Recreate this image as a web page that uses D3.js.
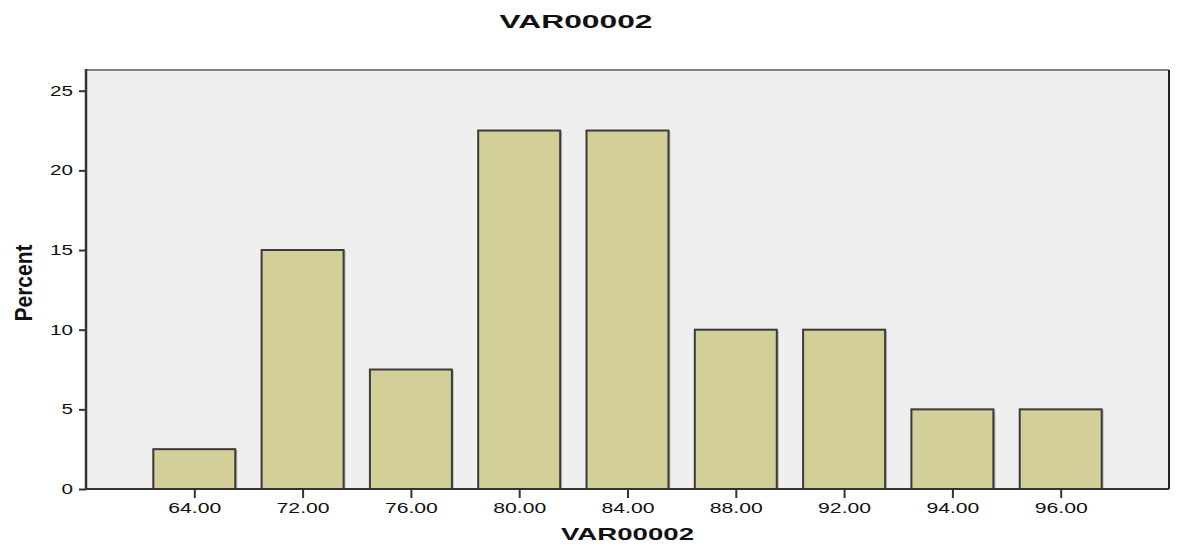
<!DOCTYPE html>
<html>
<head>
<meta charset="utf-8">
<script src="https://cdn.jsdelivr.net/npm/d3@7"></script>
<style>
  body { margin: 0; background: #fff; }
  text { font-family: "Liberation Sans", Arial, sans-serif; fill: #111; }
</style>
</head>
<body>
<div id="chart"></div>
<script>
var svgWidth = 1179;
var svgHeight = 544;

// data
var categories = ["64.00", "72.00", "76.00", "80.00", "84.00", "88.00", "92.00", "94.00", "96.00"];
var percents = [2.5, 15, 7.5, 22.5, 22.5, 10, 10, 5, 5];
var yTicks = [0, 5, 10, 15, 20, 25];

// plot box (note: "top" is a reserved window global, so use other names)
var plotLeft = 86, plotRight = 1169, plotTop = 70, plotBottom = 489;

var svg = d3.select("#chart")
  .append("svg")
  .attr("width", svgWidth)
  .attr("height", svgHeight);

var xScale = d3.scalePoint()
  .domain(categories)
  .range([plotLeft, plotRight])
  .padding(1);

var yScale = d3.scaleLinear()
  .domain([0, 26.3])
  .range([plotBottom, plotTop]);

var barWidth = xScale.step() * 0.757;

// plot background
svg.append("rect")
  .attr("x", plotLeft)
  .attr("y", plotTop)
  .attr("width", plotRight - plotLeft)
  .attr("height", plotBottom - plotTop)
  .attr("fill", "#efefef");

// bars
var bars = svg.append("g");
categories.forEach(function(c, i) {
  var x = xScale(c) - barWidth / 2;
  var y = yScale(percents[i]);
  var h = yScale(0) - y;
  // soft shadow on the right side
  bars.append("rect")
    .attr("x", x + 2)
    .attr("y", y + 1)
    .attr("width", barWidth)
    .attr("height", h - 1)
    .attr("fill", "#9a9a8a")
    .attr("opacity", 0.6);
  bars.append("rect")
    .attr("x", x)
    .attr("y", y)
    .attr("width", barWidth)
    .attr("height", h)
    .attr("fill", "#d3cf98")
    .attr("stroke", "#3a3a3a")
    .attr("stroke-width", 2);
});

// frame
svg.append("line").attr("x1", plotLeft).attr("x2", plotRight).attr("y1", plotTop).attr("y2", plotTop)
  .attr("stroke", "#808080").attr("stroke-width", 2);
svg.append("line").attr("x1", plotRight).attr("x2", plotRight).attr("y1", plotTop).attr("y2", plotBottom)
  .attr("stroke", "#222").attr("stroke-width", 2);

// y axis
var yAxis = d3.axisLeft(yScale).tickValues(yTicks).tickSize(7).tickPadding(6)
  .tickFormat(d3.format("d"));
var gy = svg.append("g").attr("transform", "translate(" + plotLeft + ",0)").call(yAxis);
gy.select(".domain").remove();
gy.selectAll(".tick line").attr("stroke", "#333").attr("stroke-width", 2);
gy.selectAll(".tick text")
  .attr("font-size", 14)
  .attr("fill", "#111")
  .attr("textLength", function(d) { return String(d).length * 11.5; })
  .attr("lengthAdjust", "spacingAndGlyphs");
svg.append("line").attr("x1", plotLeft).attr("x2", plotLeft).attr("y1", plotTop - 1).attr("y2", plotBottom + 1)
  .attr("stroke", "#333").attr("stroke-width", 2.5);

// x axis
var xAxis = d3.axisBottom(xScale).tickSize(9).tickPadding(5);
var gx = svg.append("g").attr("transform", "translate(0," + plotBottom + ")").call(xAxis);
gx.select(".domain").remove();
gx.selectAll(".tick line").attr("stroke", "#333").attr("stroke-width", 2);
gx.selectAll(".tick text")
  .attr("font-size", 14)
  .attr("fill", "#111")
  .attr("textLength", 53)
  .attr("lengthAdjust", "spacingAndGlyphs");
svg.append("line").attr("x1", plotLeft - 1).attr("x2", plotRight).attr("y1", plotBottom).attr("y2", plotBottom)
  .attr("stroke", "#333").attr("stroke-width", 2);

// titles
svg.append("text")
  .attr("x", 576)
  .attr("y", 28)
  .attr("text-anchor", "middle")
  .attr("font-size", 19)
  .attr("font-weight", "bold")
  .attr("textLength", 153)
  .attr("lengthAdjust", "spacingAndGlyphs")
  .text("VAR00002");

svg.append("text")
  .attr("x", (plotLeft + plotRight) / 2)
  .attr("y", 540)
  .attr("text-anchor", "middle")
  .attr("font-size", 17)
  .attr("font-weight", "bold")
  .attr("textLength", 133)
  .attr("lengthAdjust", "spacingAndGlyphs")
  .text("VAR00002");

svg.append("text")
  .attr("transform", "translate(32,283) rotate(-90)")
  .attr("text-anchor", "middle")
  .attr("font-size", 23)
  .attr("font-weight", "bold")
  .attr("textLength", 77)
  .attr("lengthAdjust", "spacingAndGlyphs")
  .text("Percent");
</script>
</body>
</html>
